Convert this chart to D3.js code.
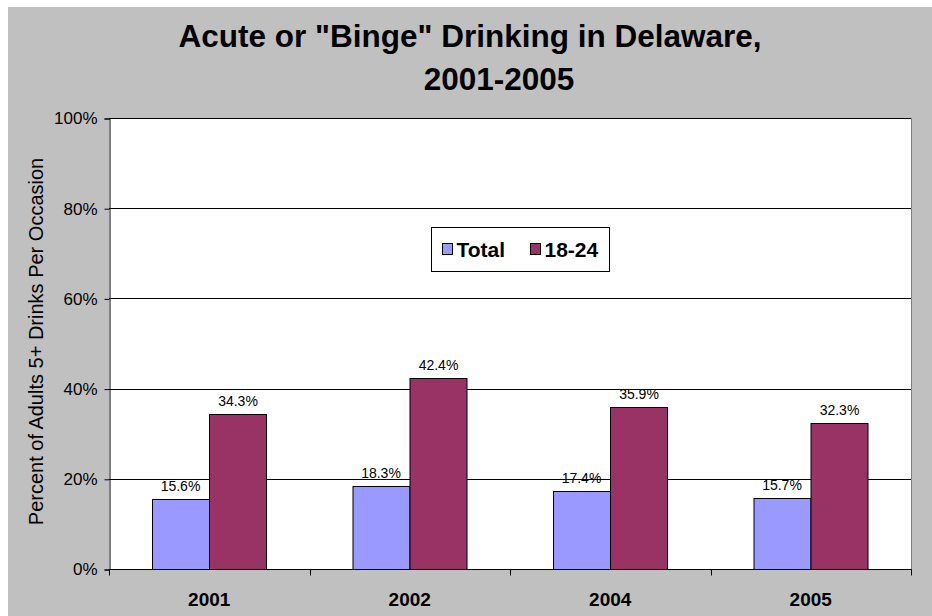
<!DOCTYPE html>
<html>
<head>
<meta charset="utf-8">
<script src="https://cdn.jsdelivr.net/npm/d3@7"></script>
<style>
  html, body { margin: 0; padding: 0; background: #ffffff; }
  svg { display: block; font-family: Arial, "Liberation Sans", sans-serif; }
</style>
</head>
<body>
<svg id="chart" width="932" height="616"></svg>
<script>
const titleLines = ['Acute or "Binge" Drinking in Delaware,', '2001-2005'];
const yAxisTitle = "Percent of Adults 5+ Drinks Per Occasion";
const categories = ["2001", "2002", "2004", "2005"];
const seriesNames = ["Total", "18-24"];
const totalValues = [15.6, 18.3, 17.4, 15.7];
const youngValues = [34.3, 42.4, 35.9, 32.3];
const yTicks = [0, 20, 40, 60, 80, 100];
const colors = ["#9999FF", "#993366"];

const series = [totalValues, youngValues];

const svg = d3.select("#chart");
const W = 932, H = 616;
const plot = { left: 109, right: 911, top: 118, bottom: 569 };

// background
svg.append("rect").attr("x", 8).attr("y", 7).attr("width", W - 8).attr("height", H - 7).attr("fill", "#C0C0C0");
svg.append("rect").attr("x", plot.left).attr("y", plot.top)
  .attr("width", plot.right - plot.left).attr("height", plot.bottom - plot.top)
  .attr("fill", "#FFFFFF");
// right plot border (gray)
svg.append("line").attr("x1", plot.right + 0.5).attr("x2", plot.right + 0.5)
  .attr("y1", plot.top).attr("y2", plot.bottom).attr("stroke", "#808080").attr("stroke-width", 1);

const x0 = d3.scaleBand().domain(categories).range([plot.left, plot.right]).paddingInner(0).paddingOuter(0);
const x1 = d3.scaleBand().domain(seriesNames).range([0, x0.bandwidth()]).paddingInner(0).paddingOuter(0.7435);
const y = d3.scaleLinear().domain([0, 100]).range([plot.bottom, plot.top]);

// gridlines
svg.append("g").selectAll("line").data(yTicks.filter(d => d > 0)).join("line")
  .attr("x1", plot.left).attr("x2", plot.right)
  .attr("y1", d => Math.round(y(d)) + 0.5).attr("y2", d => Math.round(y(d)) + 0.5)
  .attr("stroke", "#000").attr("stroke-width", 1);

// y axis
const yAxis = d3.axisLeft(y).tickValues(yTicks).tickFormat(d => d + "%").tickSizeOuter(0).tickSize(5).tickPadding(7);
const gy = svg.append("g").attr("transform", `translate(${plot.left + 0.5},0.5)`).call(yAxis);
gy.select(".domain").attr("stroke", "#000");
gy.selectAll(".tick line").attr("stroke", "#000");
gy.selectAll(".tick text").attr("font-size", 17).attr("fill", "#000").attr("font-family", "Arial, 'Liberation Sans', sans-serif");

// bars
const groups = svg.append("g").selectAll("g").data(categories).join("g")
  .attr("transform", d => `translate(${x0(d)},0)`);
seriesNames.forEach((s, si) => {
  groups.append("rect")
    .attr("x", (d, i) => Math.round(x1(s)) + 0.5)
    .attr("width", Math.round(x1.bandwidth()))
    .attr("y", (d, i) => Math.round(y(series[si][i])) + 0.5)
    .attr("height", (d, i) => Math.round(plot.bottom - y(series[si][i])))
    .attr("fill", colors[si]).attr("stroke", "#000").attr("stroke-width", 1);
  groups.append("text")
    .attr("x", (d, i) => x1(s) + x1.bandwidth() / 2)
    .attr("y", (d, i) => y(series[si][i]) - 8)
    .attr("text-anchor", "middle").attr("font-size", 14).attr("fill", "#000")
    .text((d, i) => series[si][i].toFixed(1) + "%");
});

// x axis
const gx = svg.append("g").attr("transform", `translate(0,${plot.bottom + 0.5})`);
gx.append("line").attr("x1", plot.left).attr("x2", plot.right + 1).attr("y1", 0).attr("y2", 0).attr("stroke", "#000");
const boundaries = categories.map(c => x0(c)).concat([plot.right]);
gx.selectAll("line.tk").data(boundaries).join("line").attr("class", "tk")
  .attr("x1", d => Math.round(d) + 0.5).attr("x2", d => Math.round(d) + 0.5)
  .attr("y1", 0).attr("y2", 6).attr("stroke", "#000");
gx.selectAll("text").data(categories).join("text")
  .attr("x", d => x0(d) + x0.bandwidth() / 2)
  .attr("y", 36).attr("text-anchor", "middle")
  .attr("font-size", 19).attr("font-weight", "bold").attr("fill", "#000")
  .text(d => d);

// title
const titleX = [470, 499];
const titleY = [47, 90];
svg.append("g").selectAll("text").data(titleLines).join("text")
  .attr("x", (d, i) => titleX[i]).attr("y", (d, i) => titleY[i])
  .attr("text-anchor", "middle").attr("font-size", 31.5).attr("font-weight", "bold").attr("fill", "#000")
  .text(d => d);

// y axis title
svg.append("text")
  .attr("transform", `translate(43,${(plot.top + plot.bottom) / 2 - 2}) rotate(-90)`)
  .attr("text-anchor", "middle").attr("font-size", 20).attr("fill", "#000")
  .text(yAxisTitle);

// legend
const lg = svg.append("g").attr("transform", "translate(431.5,227.5)");
lg.append("rect").attr("width", 178).attr("height", 44).attr("fill", "#fff").attr("stroke", "#000");
const legendX = [11, 99];
seriesNames.forEach((s, i) => {
  lg.append("rect").attr("x", legendX[i]).attr("y", 16).attr("width", 10).attr("height", 11)
    .attr("fill", colors[i]).attr("stroke", "#000");
  lg.append("text").attr("x", legendX[i] + 14).attr("y", 29.5)
    .attr("font-size", 21).attr("font-weight", "bold").attr("fill", "#000").text(s);
});
</script>
</body>
</html>
